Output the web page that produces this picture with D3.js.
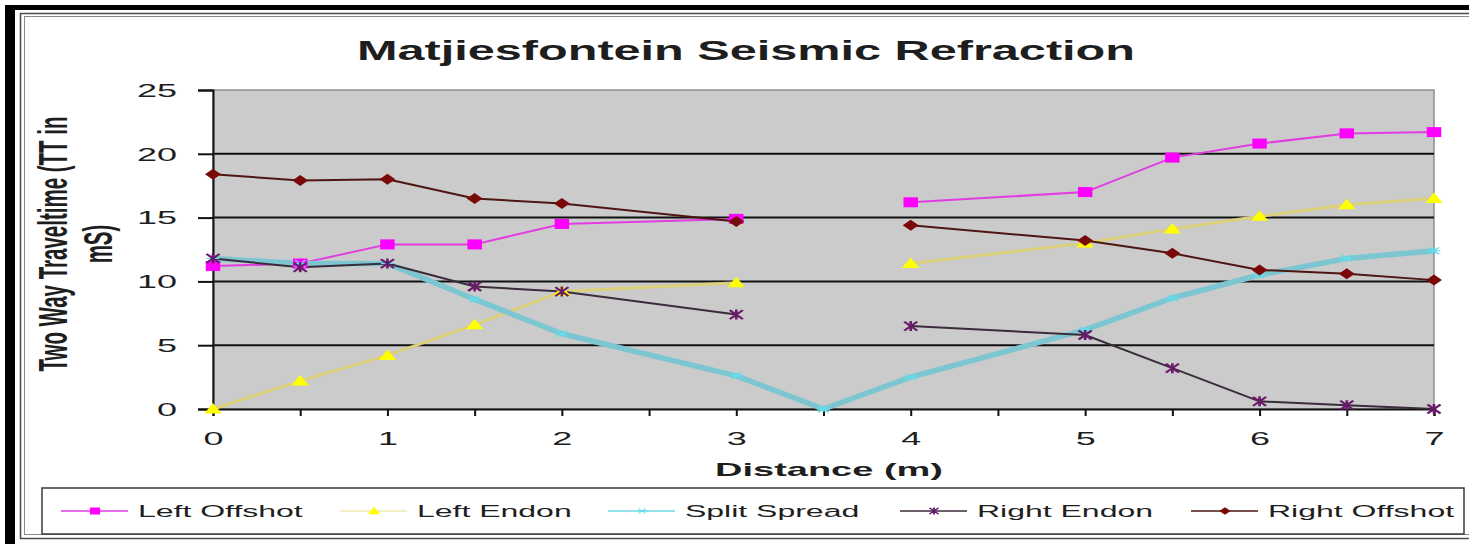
<!DOCTYPE html>
<html>
<head>
<meta charset="utf-8">
<script src="https://cdn.jsdelivr.net/npm/d3@7"></script>
<style>
  html, body { margin: 0; padding: 0; background: #ffffff; }
  svg { display: block; }
  text { font-family: "Liberation Sans", Arial, sans-serif; fill: #1e1e1e; }
</style>
</head>
<body>
<svg id="chart" width="1469" height="544"></svg>
<script>
// Shot-point distances along the line (m); 3.5 m is only shot for the split spread
const distances = [0, 0.5, 1, 1.5, 2, 3, 3.5, 4, 5, 5.5, 6, 6.5, 7];

// Two-way travel times (ms); null = no reading
const leftOffshot  = [11.2, 11.4, 12.9, 12.9, 14.5, 14.9, null, 16.2, 17.0, 19.7, 20.8, 21.6, 21.7];
const leftEndon    = [0, 2.2, 4.2, 6.6, 9.2, 9.9, null, 11.4, 13.0, 14.1, 15.1, 16.0, 16.5];
const splitSpread  = [11.8, 11.4, 11.4, 8.6, 5.9, 2.6, 0, 2.5, 6.2, 8.7, 10.5, 11.8, 12.4];
const rightEndon   = [11.8, 11.1, 11.4, 9.6, 9.2, 7.4, null, 6.5, 5.8, 3.2, 0.6, 0.3, 0];
const rightOffshot = [18.4, 17.9, 18.0, 16.5, 16.1, 14.7, null, 14.4, 13.2, 12.2, 10.9, 10.6, 10.1];

const seriesNames = ["Left Offshot", "Left Endon", "Split Spread", "Right Endon", "Right Offshot"];
const yTicks = [0, 5, 10, 15, 20, 25];
const xTicks = [0, 0.5, 1, 1.5, 2, 2.5, 3, 3.5, 4, 4.5, 5, 5.5, 6, 6.5, 7];

const titleText = "Matjiesfontein Seismic Refraction";
const xTitle = "Distance (m)";
const yTitleLines = ["Two Way Traveltime (TT in", "mS)"];

const series = [
  { name: seriesNames[0], values: leftOffshot,  line: "#e23ce2", width: 2,   marker: "square",   fill: "#ff00ff" },
  { name: seriesNames[1], values: leftEndon,    line: "#dcd07a", width: 3,   marker: "triangle", fill: "#ffff00" },
  { name: seriesNames[2], values: splitSpread,  line: "#7cc6d2", width: 5.5, marker: "plus",     fill: "#5fe0ee" },
  { name: seriesNames[3], values: rightEndon,   line: "#3b2c3c", width: 2,   marker: "star",     fill: "#6a1a6a" },
  { name: seriesNames[4], values: rightOffshot, line: "#4e1612", width: 2,   marker: "diamond",  fill: "#7a0a0a" }
];

const svg = d3.select("#chart");
const SX = 2; // horizontal glyph stretch used by every label

// ---- outer frame ----
svg.append("rect").attr("x", 0).attr("y", 0).attr("width", 1469).attr("height", 544).attr("fill", "#fff");
svg.append("rect").attr("x", 5).attr("y", 5).attr("width", 10).attr("height", 539).attr("fill", "#000");
svg.append("rect").attr("x", 5).attr("y", 5).attr("width", 1464).attr("height", 5).attr("fill", "#000");
svg.append("rect").attr("x", 20.5).attr("y", 13.5).attr("width", 1460).attr("height", 525)
  .attr("fill", "none").attr("stroke", "#4a4a4a").attr("stroke-width", 1.5);
svg.append("rect").attr("x", 24.5).attr("y", 16.5).attr("width", 1460).attr("height", 518)
  .attr("fill", "none").attr("stroke", "#8a8a8a").attr("stroke-width", 1);

// ---- scales ----
const plot = { left: 213, right: 1434, top: 90, bottom: 409 };
const x = d3.scaleLinear().domain([0, 7]).range([plot.left, plot.right]);
const y = d3.scaleLinear().domain([0, 25]).range([plot.bottom, plot.top]);

// plot background and border
svg.append("rect")
  .attr("x", plot.left).attr("y", plot.top)
  .attr("width", plot.right - plot.left).attr("height", plot.bottom - plot.top)
  .attr("fill", "#cbcbcb").attr("stroke", "#8e8e8e").attr("stroke-width", 1.5);

// horizontal gridlines
svg.append("g").selectAll("line")
  .data(yTicks.filter(d => d > 0 && d < 25))
  .join("line")
  .attr("x1", plot.left).attr("x2", plot.right)
  .attr("y1", d => y(d)).attr("y2", d => y(d))
  .attr("stroke", "#111").attr("stroke-width", 2);

// ---- axes ----
const yAxis = svg.append("g")
  .attr("transform", `translate(${plot.left},0)`)
  .call(d3.axisLeft(y).tickValues(yTicks).tickSize(15).tickFormat(d3.format("d")));
yAxis.select(".domain").attr("stroke", "#111").attr("stroke-width", 2);
yAxis.selectAll(".tick line").attr("stroke", "#111").attr("stroke-width", 2);
yAxis.selectAll(".tick text")
  .attr("x", 0).attr("dy", null)
  .attr("transform", `translate(-36,0) scale(${SX},1)`)
  .attr("text-anchor", "end")
  .attr("dominant-baseline", "central")
  .style("font-size", "18px").style("font-family", "Liberation Sans, Arial, sans-serif")
  .attr("fill", "#2a2a2a");

const xAxis = svg.append("g")
  .attr("transform", `translate(0,${plot.bottom})`)
  .call(d3.axisBottom(x).tickValues(xTicks).tickSize(7)
    .tickFormat(d => Number.isInteger(d) ? String(d) : ""));
xAxis.select(".domain").attr("stroke", "#111").attr("stroke-width", 2);
xAxis.selectAll(".tick line").attr("stroke", "#111").attr("stroke-width", 2);
xAxis.selectAll(".tick text")
  .attr("y", 0).attr("dy", null)
  .attr("transform", `translate(0,30) scale(${SX},1)`)
  .attr("text-anchor", "middle")
  .attr("dominant-baseline", "central")
  .style("font-size", "18px").style("font-family", "Liberation Sans, Arial, sans-serif")
  .attr("fill", "#2a2a2a");

// ---- markers ----
function drawMarker(g, type, fill, cx, cy, scale) {
  const s = scale || 1;
  const grp = g.append("g").attr("transform", `translate(${cx},${cy}) scale(${1.45 * s},${s})`);
  if (type === "square") {
    grp.append("rect").attr("x", -5).attr("y", -5).attr("width", 10).attr("height", 10).attr("fill", fill);
  } else if (type === "diamond") {
    grp.append("path").attr("d", "M0,-5.5L5.5,0L0,5.5L-5.5,0Z").attr("fill", fill);
  } else if (type === "triangle") {
    grp.append("path").attr("d", "M0,-6L6,4.5L-6,4.5Z").attr("fill", fill);
  } else if (type === "star") {
    grp.append("path").attr("d", "M-4.5,-4.5L4.5,4.5M-4.5,4.5L4.5,-4.5M0,-5L0,5")
      .attr("stroke", fill).attr("stroke-width", 1.8).attr("fill", "none");
  } else if (type === "plus") {
    grp.append("path").attr("d", "M-3.5,-3.5L3.5,3.5M-3.5,3.5L3.5,-3.5M-4.5,0L4.5,0")
      .attr("stroke", fill).attr("stroke-width", 1.1).attr("fill", "none");
  }
}

// ---- series lines and markers ----
const lineGen = d3.line()
  .defined(d => d.v !== null)
  .x(d => x(d.d))
  .y(d => y(d.v));

const seriesLayer = svg.append("g");
series.forEach(s => {
  const pts = distances.map((d, i) => ({ d, v: s.values[i] }));
  seriesLayer.append("path")
    .datum(pts)
    .attr("d", lineGen)
    .attr("fill", "none")
    .attr("stroke", s.line)
    .attr("stroke-width", s.width)
    .attr("stroke-linejoin", "round")
    .attr("stroke-linecap", "round");
});
series.forEach(s => {
  const g = seriesLayer.append("g");
  distances.forEach((d, i) => {
    const v = s.values[i];
    if (v === null) return;
    drawMarker(g, s.marker, s.fill, x(d), y(v));
  });
});

// ---- titles ----
svg.append("text")
  .attr("transform", "translate(746,60)")
  .attr("text-anchor", "middle")
  .attr("textLength", 778).attr("lengthAdjust", "spacingAndGlyphs")
  .style("font-size", "27px").style("font-weight", "bold")
  .text(titleText);

svg.append("text")
  .attr("transform", `translate(829,469) scale(${SX},1)`)
  .attr("text-anchor", "middle").attr("dominant-baseline", "central")
  .style("font-size", "19px").style("font-weight", "bold")
  .text(xTitle);

const yTitle = svg.append("g")
  .attr("transform", `translate(75,244) scale(${SX},1) rotate(-90)`);
yTitleLines.forEach((t, i) => {
  yTitle.append("text")
    .attr("x", 0).attr("y", i === 0 ? -11 : 11.5)
    .attr("text-anchor", "middle").attr("dominant-baseline", "central")
    .style("font-size", "20.5px").style("font-weight", "bold")
    .text(t);
});

// ---- legend ----
const legendBox = { x: 42, y: 488, w: 1422, h: 46 };
svg.append("rect")
  .attr("x", legendBox.x).attr("y", legendBox.y)
  .attr("width", legendBox.w).attr("height", legendBox.h)
  .attr("fill", "#fff").attr("stroke", "#3a3a3a").attr("stroke-width", 1.5);

const legendX = [61, 340, 608, 900, 1191];
const legendCy = legendBox.y + 23;
series.forEach((s, i) => {
  const g = svg.append("g");
  const x0 = legendX[i];
  g.append("line")
    .attr("x1", x0).attr("x2", x0 + 67)
    .attr("y1", legendCy).attr("y2", legendCy)
    .attr("stroke", i === 2 ? "#70d8e6" : (i === 1 ? "#f2eab0" : s.line))
    .attr("stroke-width", 1.6);
  drawMarker(g, s.marker, s.fill, x0 + 34, legendCy, 0.7);
  g.append("text")
    .attr("transform", `translate(${x0 + 77},${legendCy}) scale(${SX},1)`)
    .attr("dominant-baseline", "central")
    .style("font-size", "16px")
    .text(s.name);
});
</script>
</body>
</html>
